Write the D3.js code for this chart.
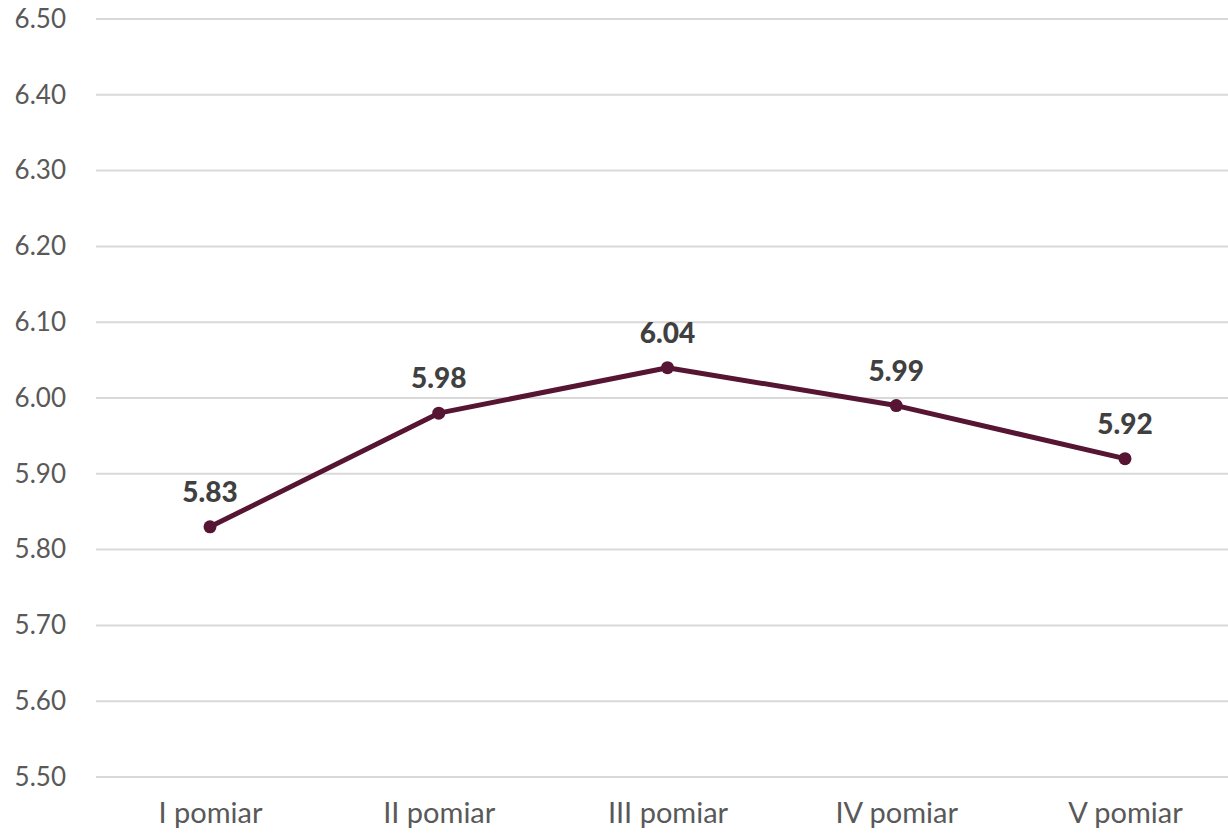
<!DOCTYPE html>
<html>
<head>
<meta charset="utf-8">
<script src="https://cdn.jsdelivr.net/npm/d3@7"></script>
<style>
  body { margin: 0; background: #fff; }
  text { font-family: "Lato", "Open Sans", sans-serif; }
</style>
</head>
<body>
<div id="chart"></div>
<script>
// chart data
var categories = ["I pomiar", "II pomiar", "III pomiar", "IV pomiar", "V pomiar"];
var values = [5.83, 5.98, 6.04, 5.99, 5.92];
var yTicks = [5.5, 5.6, 5.7, 5.8, 5.9, 6.0, 6.1, 6.2, 6.3, 6.4, 6.5];

var width = 1228, height = 836;

var svg = d3.select("#chart").append("svg")
    .attr("width", width)
    .attr("height", height);

// Scales
var x = d3.scalePoint()
    .domain(categories)
    .range([210, 1125]);

var y = d3.scaleLinear()
    .domain([5.5, 6.5])
    .range([777, 19]);

// Gridlines
svg.append("g")
    .selectAll("line")
    .data(yTicks)
    .enter().append("line")
    .attr("x1", 96)
    .attr("x2", width)
    .attr("y1", function(d) { return y(d); })
    .attr("y2", function(d) { return y(d); })
    .attr("stroke", "#d9d9d9")
    .attr("stroke-width", 2);

// Y axis labels
var yAxis = d3.axisLeft(y)
    .tickValues(yTicks)
    .tickFormat(d3.format(".2f"))
    .tickSize(0)
    .tickPadding(0);

svg.append("g")
    .attr("class", "y-axis")
    .attr("transform", "translate(66,0)")
    .call(yAxis)
    .call(function(g) { g.select(".domain").remove(); })
    .selectAll("text")
    .attr("fill", "#595959")
    .attr("font-size", 26)
    .attr("font-family", "Lato, 'Open Sans', sans-serif");

// X axis labels
var xAxis = d3.axisBottom(x)
    .tickSize(0)
    .tickPadding(0);

svg.append("g")
    .attr("class", "x-axis")
    .attr("transform", "translate(0,802)")
    .call(xAxis)
    .call(function(g) { g.select(".domain").remove(); })
    .selectAll("text")
    .attr("fill", "#595959")
    .attr("font-size", 29)
    .attr("font-family", "Lato, 'Open Sans', sans-serif");

// Line
var line = d3.line()
    .x(function(d, i) { return x(categories[i]); })
    .y(function(d) { return y(d); });

svg.append("path")
    .datum(values)
    .attr("d", line)
    .attr("fill", "none")
    .attr("stroke", "#561533")
    .attr("stroke-width", 5)
    .attr("stroke-linejoin", "round");

// Markers
svg.append("g")
    .selectAll("circle")
    .data(values)
    .enter().append("circle")
    .attr("cx", function(d, i) { return x(categories[i]); })
    .attr("cy", function(d) { return y(d); })
    .attr("r", 6.5)
    .attr("fill", "#561533");

// Data labels
svg.append("g")
    .selectAll("text")
    .data(values)
    .enter().append("text")
    .attr("x", function(d, i) { return x(categories[i]); })
    .attr("y", function(d) { return y(d) - 25; })
    .attr("text-anchor", "middle")
    .attr("font-size", 28)
    .attr("font-weight", 900)
    .attr("fill", "#404040")
    .text(function(d) { return d3.format(".2f")(d); });
</script>
</body>
</html>
